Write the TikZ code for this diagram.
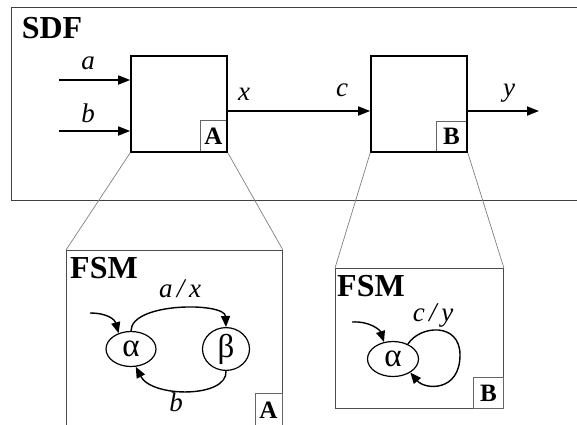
\documentclass[tikz,border=0pt]{standalone}
\usepackage{fontspec}
\setmainfont{Liberation Serif}
\usetikzlibrary{arrows.meta,shapes.geometric}
\begin{document}
\begin{tikzpicture}[x=1pt,y=-1pt,
  frame/.style={draw=black!75,line width=0.9pt},
  fsmframe/.style={draw=black!70,line width=0.9pt},
  zoomline/.style={draw=black!50,line width=0.7pt},
  block/.style={draw=black,line width=1.6pt,minimum width=96pt,minimum height=96pt,inner sep=0pt},
  tagbox/.style={draw=black!60,line width=0.8pt,inner sep=0pt,font=\fontsize{25}{25}\selectfont\bfseries},
  title/.style={font=\fontsize{32}{32}\selectfont\bfseries,inner sep=0pt},
  sig/.style={font=\fontsize{27}{27}\selectfont\itshape,inner sep=0pt},
  state/.style={draw=black,line width=1.2pt,ellipse,minimum width=50pt,minimum height=35pt,inner sep=0pt,font=\fontsize{33}{33}\selectfont},
  flow/.style={line width=1.7pt,-{Triangle[length=12pt,width=9pt]}},
  trans/.style={line width=1.4pt,-{Triangle[length=11pt,width=9pt]}}
]
\useasboundingbox (0,0) rectangle (577,424);
\clip (0,0) rectangle (577,424);
% SDF frame
\draw[frame] (11,7) rectangle (600,200);
\node[title] (sdf) at (52,28) {SDF};
% label boxes (drawn before blocks)
\node[tagbox,minimum width=27pt,minimum height=32pt] (tA) at (213.5,136) {A};
\node[tagbox,minimum width=31pt,minimum height=31pt] (tB) at (451.5,136.5) {B};
% blocks
\node[block] (A) at (179,104) {};
\node[block] (B) at (419,104) {};
% signals
\coordinate (ina) at (59,80);
\coordinate (inb) at (59,131);
\coordinate (mid) at (299,111);
\coordinate (outy) at (539,111);
\draw[flow] (ina) -- (ina -| A.west);
\draw[flow] (inb) -- (inb -| A.west);
\draw[flow] (mid -| A.east) -- (mid -| B.west);
\draw[flow] (outy -| B.east) -- (outy);
\node[sig] (la) at (88,63) {a};
\node[sig] (lb) at (88,113) {b};
\node[sig] (lx) at (244,94) {x};
\node[sig] (lc) at (342,90) {c};
\node[sig] (ly) at (509,93) {y};
% FSM frames
\node[fsmframe,minimum width=216pt,minimum height=200pt,inner sep=0pt,anchor=north west] (fA) at (66,250) {};
\node[fsmframe,minimum width=168pt,minimum height=140pt,inner sep=0pt,anchor=north west] (fB) at (335,268) {};
\draw[zoomline] (A.south west) -- (fA.north west);
\draw[zoomline] (A.south east) -- (fA.north east);
\draw[zoomline] (B.south west) -- (fB.north west);
\draw[zoomline] (B.south east) -- (fB.north east);
\node[title] (fsmA) at (104,268) {FSM};
\node[title] (fsmB) at (371,286) {FSM};
\node[tagbox,minimum width=27pt,minimum height=40pt,anchor=north east] (tA2) at (fA.east |- 0,393) {};
\node[font=\fontsize{25}{25}\selectfont\bfseries,inner sep=0pt] (tA2l) at (268.5,410) {A};
\node[tagbox,minimum width=30pt,minimum height=31pt,anchor=south east] (tB2) at (fB.south east) {B};
% FSM A
\node[state] (aA) at (131,349) {α};
\node[state,minimum width=47pt] (bA) at (226,349) {β};
\coordinate (initA) at (90,313);
\draw[trans] (initA) .. controls (108,313) and (115,320) .. (aA.128);
\draw[trans] (aA.north) .. controls (131,302) and (225,302) .. (bA.north);
\draw[trans] (bA.south) .. controls (228,398) and (152,398) .. (aA.-75);
\node[sig] (lax) at (180,289) {a\,/\,x};
\node[sig] (lbb) at (176,402) {b};
% FSM B
\node[state,minimum width=51pt] (aB) at (393,359) {α};
\coordinate (initB) at (352,322);
\draw[trans] (initB) .. controls (370,321) and (380,330) .. (aB.118);
\draw[trans] (aB.45) .. controls (420,325) and (460,322) .. (460,355) .. controls (460,392) and (425,390) .. (aB.-38);
\node[sig] (lcy) at (433,316) {c\,/\,y};
\end{tikzpicture}
\end{document}
